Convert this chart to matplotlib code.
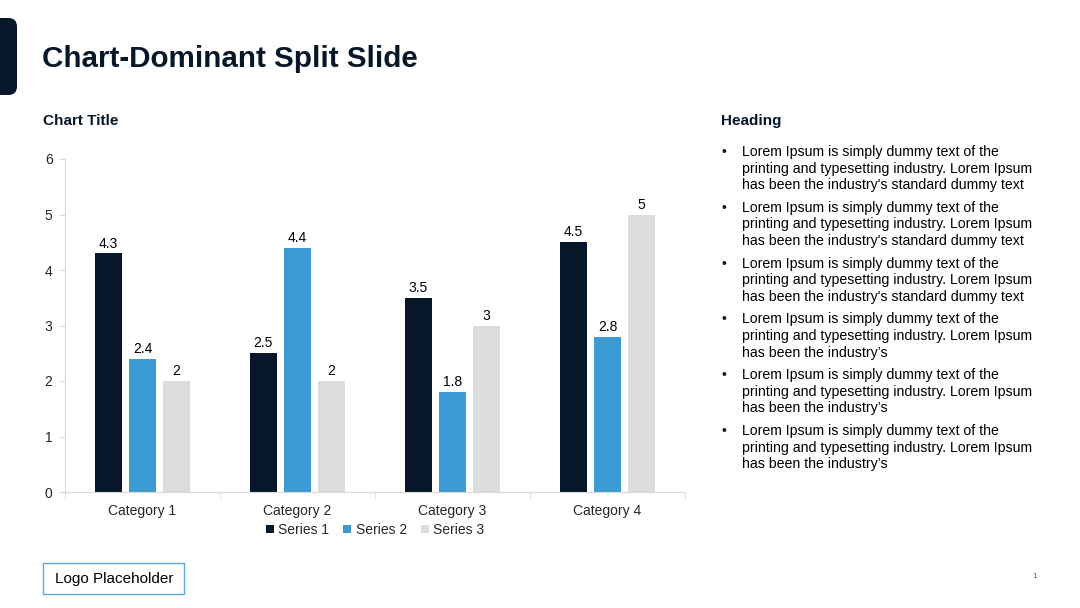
import matplotlib.pyplot as plt
import matplotlib.patches as mpatches
import numpy as np

plt.rcParams['font.family'] = ['Liberation Sans', 'DejaVu Sans']

# chart data
categories = ['Category 1', 'Category 2', 'Category 3', 'Category 4']
series_names = ['Series 1', 'Series 2', 'Series 3']
series_1 = [4.3, 2.5, 3.5, 4.5]
series_2 = [2.4, 4.4, 1.8, 2.8]
series_3 = [2, 2, 3, 5]
y_ticks = [0, 1, 2, 3, 4, 5, 6]

slide_title = 'Chart-Dominant Split Slide'
bullet_lines = [
    ["Lorem Ipsum is simply dummy text of the",
     "printing and typesetting industry. Lorem Ipsum",
     "has been the industry's standard dummy text"],
    ["Lorem Ipsum is simply dummy text of the",
     "printing and typesetting industry. Lorem Ipsum",
     "has been the industry's standard dummy text"],
    ["Lorem Ipsum is simply dummy text of the",
     "printing and typesetting industry. Lorem Ipsum",
     "has been the industry's standard dummy text"],
    ["Lorem Ipsum is simply dummy text of the",
     "printing and typesetting industry. Lorem Ipsum",
     "has been the industry\u2019s"],
    ["Lorem Ipsum is simply dummy text of the",
     "printing and typesetting industry. Lorem Ipsum",
     "has been the industry\u2019s"],
    ["Lorem Ipsum is simply dummy text of the",
     "printing and typesetting industry. Lorem Ipsum",
     "has been the industry\u2019s"],
]

navy = '#061729'
blue = '#3a9bd5'
grey = '#dcdcdc'
text_col = '#262626'
W, H = 1080, 608

fig = plt.figure(figsize=(10.8, 6.08), dpi=100)

def fx(px):
    return px / W

def fy(py):
    return 1 - py / H

# left accent block
fig.patches.append(mpatches.FancyBboxPatch(
    (fx(-20), fy(95)), fx(37), 77 / H, boxstyle='round,pad=0,rounding_size=0.008',
    transform=fig.transFigure, facecolor=navy, edgecolor='none', mutation_aspect=W / H))

fig.text(fx(42), fy(67), slide_title, fontsize=21.3, fontweight='bold', color=navy,
         va='baseline', ha='left')
fig.text(fx(43), fy(121), 'Chart Title', fontsize=11, fontweight='bold',
         color=navy, va='center', ha='left')
fig.text(fx(721), fy(121), 'Heading', fontsize=11, fontweight='bold',
         color=navy, va='center', ha='left')

# bullets
y0 = 152
for i, lines in enumerate(bullet_lines):
    gy = y0 + i * 55.8
    fig.text(fx(724), fy(gy), '\u2022', fontsize=10, color=navy, va='center', ha='center')
    for j, line in enumerate(lines):
        fig.text(fx(742), fy(gy + j * 16.6), line, fontsize=10.2, color='black',
                 va='center', ha='left')

# chart
ax = fig.add_axes([fx(65), fy(492), fx(685) - fx(65), (492 - 159) / H])
x = np.arange(len(categories))
width = 0.175
offset = 0.22
colors = [navy, blue, grey]
for k, vals in enumerate([series_1, series_2, series_3]):
    bars = ax.bar(x + (k - 1) * offset, vals, width, color=colors[k], label=series_names[k])
    for b, v in zip(bars, vals):
        ax.text(b.get_x() + b.get_width() / 2, v + 0.05, f'{v:g}', ha='center', va='bottom',
                fontsize=10, color='black')

ax.set_xlim(-0.5, len(categories) - 0.5)
ax.set_ylim(0, 6)
ax.set_yticks(y_ticks)
ax.set_xticks(x)
ax.set_xticklabels(categories)
ax.set_xticks(np.arange(-0.5, len(categories)), minor=True)
ax.tick_params(axis='x', which='major', length=0, pad=9, labelsize=10, labelcolor=text_col)
ax.tick_params(axis='x', which='minor', length=5, color='#d9d9d9')
ax.tick_params(axis='y', length=4, color='#d9d9d9', pad=5, labelsize=10, labelcolor=text_col)
for s in ['top', 'right']:
    ax.spines[s].set_visible(False)
for s in ['left', 'bottom']:
    ax.spines[s].set_color('#d9d9d9')
    ax.spines[s].set_linewidth(0.8)

ax.legend(loc='center', bbox_to_anchor=(0.5, -0.114), ncol=3, frameon=False, fontsize=10,
          handlelength=0.6, handleheight=0.6, handletextpad=0.3, columnspacing=1.0,
          labelcolor=text_col)

# logo placeholder
fig.patches.append(mpatches.Rectangle((fx(43), fy(594)), fx(141), 31 / H, transform=fig.transFigure,
                                      facecolor='white', edgecolor='#5aa9d8', linewidth=1.0))
fig.text(fx(114), fy(578.5), 'Logo Placeholder', fontsize=11, color='black',
         va='center', ha='center')
fig.text(fx(1035), fy(577), '1', fontsize=6, color='#595959', va='center', ha='center')

fig.savefig('out.png', dpi=100)
